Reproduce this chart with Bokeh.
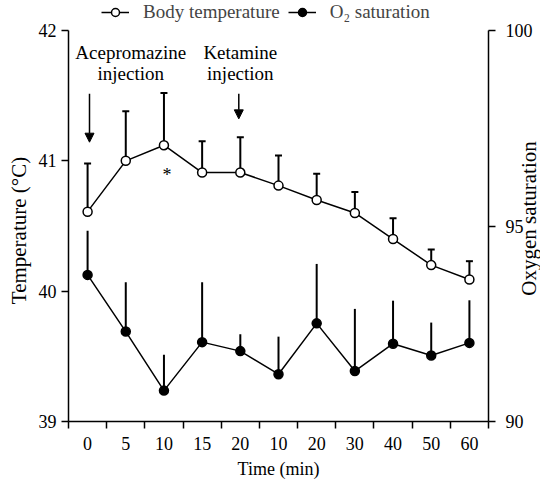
import math
from bokeh.plotting import figure
from bokeh.models import (Range1d, LinearAxis, FixedTicker, Legend, LegendItem,
                          Label, Arrow, NormalHead)
from bokeh.embed import file_html
from bokeh.resources import INLINE

# ---- data ----
time_labels = ["0", "5", "10", "15", "20", "10", "20", "30", "40", "50", "60"]
temp_mean = [40.61, 41.00, 41.12, 40.91, 40.91, 40.81, 40.70, 40.60, 40.40, 40.20, 40.09]
temp_sd = [0.37, 0.38, 0.40, 0.24, 0.27, 0.23, 0.20, 0.16, 0.16, 0.12, 0.14]
o2_mean = [93.75, 92.30, 90.79, 92.03, 91.80, 91.21, 92.51, 91.29, 91.99, 91.69, 92.01]
o2_sd = [1.13, 1.26, 0.92, 1.53, 0.43, 0.96, 1.52, 1.59, 1.10, 0.84, 1.09]
temp_ticks = [39, 40, 41, 42]
o2_ticks = [90, 95, 100]

FONT = "Liberation Serif"
FS = "18px"
n = len(time_labels)
xs = [i + 0.5 for i in range(n)]
temp_top = [m + s for m, s in zip(temp_mean, temp_sd)]
o2_top = [m + s for m, s in zip(o2_mean, o2_sd)]

# ---- layout geometry (pixels); the frame fills the whole figure ----
W, H = 540, 481
X0_PX = 68                 # x of the left axis
CAT_PX = 420 / n           # width of one time slot
Y_TOP_PX, Y_BOT_PX = 30, 421   # y of the top / bottom tick
t_lo, t_hi = temp_ticks[0], temp_ticks[-1]
o_lo, o_hi = o2_ticks[0], o2_ticks[-1]
t_pp = (t_hi - t_lo) / (Y_BOT_PX - Y_TOP_PX)
o_pp = (o_hi - o_lo) / (Y_BOT_PX - Y_TOP_PX)

x_range = Range1d(-X0_PX / CAT_PX, (W - X0_PX) / CAT_PX)
y_range = Range1d(t_lo - (H - Y_BOT_PX) * t_pp, t_hi + Y_TOP_PX * t_pp)
o_range = Range1d(o_lo - (H - Y_BOT_PX) * o_pp, o_hi + Y_TOP_PX * o_pp)


def t_at(px):
    """temperature value at a pixel row (for placing texts)"""
    return t_hi - (px - Y_TOP_PX) * t_pp


p = figure(width=W, height=H, output_backend="svg", toolbar_location=None,
           x_range=x_range, y_range=y_range, min_border=0)
p.extra_y_ranges = {"o2": o_range}
p.grid.visible = False
p.outline_line_color = None
p.background_fill_color = "white"
p.border_fill_color = "white"

# bottom axis: labels at slot centres, tick marks at slot boundaries
xa = p.xaxis[0]
xa.fixed_location = t_lo
xa.bounds = (0, n)
xa.ticker = FixedTicker(ticks=xs, minor_ticks=list(range(n + 1)))
xa.major_label_overrides = {x: lab for x, lab in zip(xs, time_labels)}
xa.major_tick_line_color = None
xa.major_tick_out = 7
xa.major_tick_in = 0
xa.minor_tick_out = 7
xa.minor_tick_in = 0
xa.minor_tick_line_color = "black"
xa.minor_tick_line_width = 1.5
xa.major_label_standoff = 8

# left axis
ya = p.yaxis[0]
ya.fixed_location = 0
ya.ticker = FixedTicker(ticks=temp_ticks)
ya.bounds = (t_lo, t_hi)
ya.major_tick_out = 7
ya.major_tick_in = 0
ya.major_label_standoff = 5

# right axis
ra = LinearAxis(y_range_name="o2", ticker=FixedTicker(ticks=o2_ticks), bounds=(o_lo, o_hi))
ra.fixed_location = n
ra.major_tick_out = 7
ra.major_tick_in = 0
ra.major_label_standoff = 10
p.add_layout(ra, "right")

for ax in [xa, ya, ra]:
    ax.axis_line_color = "black"
    ax.axis_line_width = 1.5
    ax.major_tick_line_width = 1.5
    ax.major_label_text_font = FONT
    ax.major_label_text_font_size = FS
    ax.major_label_text_color = "black"

# error bars
p.segment(x0=xs, y0=temp_mean, x1=xs, y1=temp_top, line_color="black", line_width=2)
p.scatter(x=xs, y=temp_top, marker="dash", size=7, line_color="black", line_width=2)
p.segment(x0=xs, y0=o2_mean, x1=xs, y1=o2_top, line_color="black", line_width=2,
          y_range_name="o2")

# series
t_line = p.line(xs, temp_mean, line_color="black", line_width=1.5)
t_pts = p.scatter(xs, temp_mean, marker="circle", size=9, fill_color="white",
                  line_color="black", line_width=1.5)
o_line = p.line(xs, o2_mean, line_color="black", line_width=1.5, y_range_name="o2")
o_pts = p.scatter(xs, o2_mean, marker="circle", size=9, fill_color="black",
                  line_color="black", line_width=1.5, y_range_name="o2")

legend = Legend(items=[LegendItem(label="Body temperature", renderers=[t_line, t_pts]),
                       LegendItem(label="O₂ saturation", renderers=[o_line, o_pts])],
                orientation="horizontal", location=(X0_PX + 33, H - 13 - 10),
                border_line_color=None, background_fill_alpha=0,
                label_text_font=FONT, label_text_font_size="19px",
                glyph_width=28, glyph_height=20, label_standoff=14,
                spacing=8, padding=0, margin=0)
p.add_layout(legend)

# axis titles
p.add_layout(Label(x=18, x_units="screen", y=t_at(230), text="Temperature (°C)",
                   angle=math.pi / 2, text_align="center", text_baseline="middle",
                   text_font=FONT, text_font_size="21px", text_color="black"))
p.add_layout(Label(x=528, x_units="screen", y=t_at(218), text="Oxygen saturation",
                   angle=math.pi / 2, text_align="center", text_baseline="middle",
                   text_font=FONT, text_font_size="21px", text_color="black"))
p.add_layout(Label(x=n / 2, y=t_at(468), text="Time (min)",
                   text_align="center", text_baseline="middle",
                   text_font=FONT, text_font_size=FS, text_color="black"))

# annotations
for txt, x, y in [("Acepromazine", 1.63, 41.833), ("injection", 1.63, 41.67),
                  ("Ketamine", 4.5, 41.833), ("injection", 4.5, 41.67)]:
    p.add_layout(Label(x=x, y=y, text=txt, text_align="center", text_baseline="middle",
                       text_font=FONT, text_font_size="19px", text_color="black"))

for x, y0, y1 in [(0.55, 41.514, 41.143), (4.46, 41.514, 41.322)]:
    p.add_layout(Arrow(x_start=x, y_start=y0, x_end=x, y_end=y1, line_width=1.5,
                       line_color="black",
                       end=NormalHead(size=9, fill_color="black", line_color="black")))

p.add_layout(Label(x=2.58, y=40.891, text="*", text_align="center", text_baseline="middle",
                   text_font=FONT, text_font_size="18px", text_color="black"))

open("out.html", "w").write(file_html(p, INLINE))
